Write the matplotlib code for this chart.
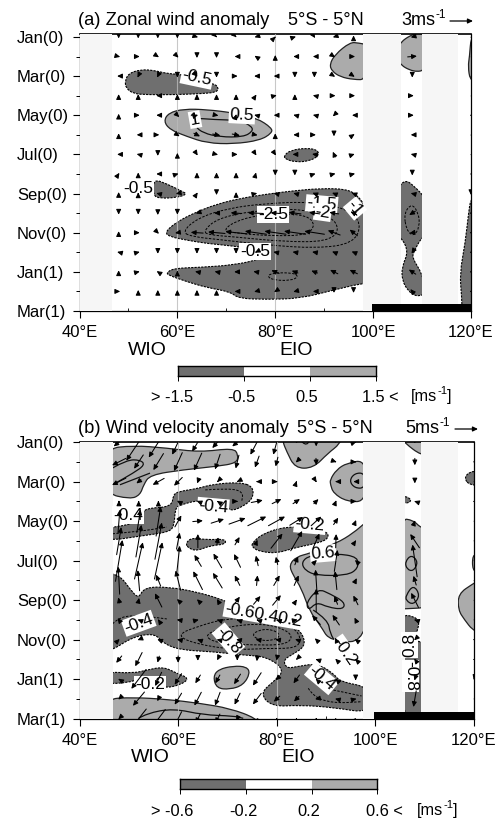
import numpy as np
import matplotlib
matplotlib.use('Agg')
import matplotlib.pyplot as plt
from matplotlib.patches import FancyArrowPatch, PathPatch
from matplotlib.path import Path

plt.rcParams['font.family'] = ['Liberation Sans', 'DejaVu Sans']

W, H = 499, 825
DARK = '#6f6f6f'
LIGHT = '#ababab'
BAND = '#f6f6f6'

MONTH_TICKS = [0, 2, 4, 6, 8, 10, 12, 14]
MONTH_LABELS = ['Jan(0)', 'Mar(0)', 'May(0)', 'Jul(0)', 'Sep(0)', 'Nov(0)', 'Jan(1)', 'Mar(1)']
LON_TICKS = [40, 60, 80, 100, 120]
LON_LABELS = ['40°E', '60°E', '80°E', '100°E', '120°E']
ARROW_LONS = [48, 52, 56, 60, 64, 68, 72, 76, 80, 84, 88, 92, 96]

# panel (a): zonal wind, m/s, rows are months 0..13
U_A = [
    [0, 0, 0, 0, .3, .1, .1, -.3, .1, .3, .2, -.3, 0],
    [.4, .4, .3, .3, 0, 0, -.4, -.3, 0, -.4, -.4, .3, .4],
    [-.4, -.2, -.2, 0, .1, 0, .4, -.4, -.4, 0, 0, .3, .3],
    [0, 0, -.4, 0, 0, 0, 0, .2, .4, 0, -.4, .4, .4],
    [0, .4, -.4, .5, .3, .5, .1, -.4, -.4, -.4, -.4, -.3, -.4],
    [0, -.4, .4, .6, .8, 1, 1, .5, 0, -.4, .4, 0, .3],
    [-.4, -.4, 0, 0, .2, .4, .4, .2, .2, -.6, -.6, -.3, .3],
    [.2, 0, -.4, .3, 0, 0, 0, .1, 0, 0, .3, .4, .4],
    [0, 0, -.4, -.4, .2, 0, 0, .4, -.4, -.4, -.5, -.5, -.5],
    [0, 0, 0, 0, -.3, -.6, -1.4, -2, -1.2, -1.6, -1.4, -1.2, -.8],
    [0, .4, .3, -.6, -1.6, -2.2, -2.8, -2.8, -2.8, -2.8, -2.6, -1.6, -1],
    [-.4, .4, 0, 0, 0, 0, 0, -.2, -.5, -.6, -.6, -.5, -.5],
    [0, .4, -.3, 0, -.5, -.5, -.5, -.6, -1, -.8, -.8, -1, -1],
    [.4, 0, 0, 0, 0, 0, -.4, -.4, -.3, -.4, -.4, 0, 0],
]
V_A = [
    [-.4, -.4, -.4, -.4, -.1, -.1, -.1, -.1, .1, .1, -.3, -.1, .4],
    [-.1, 0, -.2, -.3, -.4, -.4, 0, .2, .4, 0, 0, -.2, 0],
    [0, -.4, -.4, -.4, -.1, -.4, 0, 0, 0, -.4, -.4, -.2, -.2],
    [.4, .4, 0, .4, .4, .4, .4, .3, .1, .4, .1, 0, 0],
    [.4, 0, 0, -.5, .1, -.1, .3, .1, 0, .1, .1, -.3, 0],
    [.4, 0, 0, -.4, -.4, -.2, -.2, -.1, .4, 0, 0, -.4, .2],
    [0, .1, -.4, .4, -.3, -.1, 0, -.3, -.3, 0, .1, .7, .1],
    [.3, .4, 0, .1, .4, .4, .4, .4, -.4, -.4, .1, .1, .1],
    [.4, .3, .1, -.1, .3, -.4, .4, .1, .1, .1, .2, .2, .2],
    [-.4, -.4, -.5, -.4, -.1, 0, .1, .1, .1, .2, .2, .2, .4],
    [.4, 0, -.3, -.1, .1, .2, .3, .4, .4, .4, .4, .6, .8],
    [.1, .1, -.4, -.4, -.4, -.4, -.4, -.1, .1, .1, .1, .2, .2],
    [.4, .1, .2, .3, .1, .1, 0, .1, .4, .3, .3, .5, .5],
    [0, .4, .4, .4, .4, .4, 0, -.1, -.2, -.1, 0, -.4, -.4],
]
U_A_108 = [-.4, 1.2, 0, .4, .4, -.4, -.4, 0, -.4, -.8, -.7, -.2, -.9, -.5]
V_A_108 = [-.1, .1, -.4, 0, 0, 0, .1, -.4, .1, -.5, -.1, -.3, .6, .6]
U_A_120 = [-.1, -.1, -.1, -.1, -.3, -.1, -.1, -.3, 0, -.4, -.4, -.4, -.4, -.4]
V_A_120 = [.1, .1, .1, .1, 0, .1, .1, .1, -.4, 0, 0, 0, 0, 0]

# panel (b): wind vector, m/s, rows are months 0..14
U_B = [
    [-2.3, -5.4, -4.2, -2.6, -2.5, -2.3, -2.2, -2.9, -1.5, -.3, 0, .2, .3],
    [-3, -2, -2.2, -1.8, -1.7, -1.1, -.7, -.9, -.5, -.3, .1, .3, .3],
    [-3, -1, -2.5, -1.8, -.3, -.2, -.2, -.4, .4, .1, .2, -.3, -1],
    [0, 0, 0, -.5, -.5, -.3, .3, 2.5, 2, 1.5, 1, .2, .3],
    [.4, .8, 1, 1.4, 2.2, 2.8, 3.6, 4, 3.6, 2.9, 2.2, 1, .2],
    [1, 1.2, 1.5, .7, 0, .3, 1, .2, 2.5, 2.5, 1.4, .1, .2],
    [1.5, 1.8, 1.7, .7, -1.5, -1.8, -1.4, -.5, -.4, .7, .3, .7, -.3],
    [-.3, -.4, -1, -1.1, -2, -2, -1.1, .2, 1.3, 1, -.3, -.4, .5],
    [-.3, .2, -1.5, -.5, -.4, -.3, 1.1, 1.5, 1.8, .2, 0, -.7, -1],
    [-.6, -.5, -.2, -.6, .4, -.3, -.3, -.3, -.3, .5, -1.8, -1.5, -.5],
    [.3, -.5, -.5, -.5, -.3, -.4, -.5, -.6, -.7, -.6, -.6, -.4, -.4],
    [-1.2, -1.5, -.4, 0, 0, -.2, 0, -.1, -.1, -.2, -.3, -.3, -.2],
    [-.3, -3.2, -1.4, -1.5, -1.1, -1, -1.4, -1.8, -.5, -1.3, -.2, -.2, 0],
    [-.3, -2.5, -.5, -1.5, -1.5, -1.1, -1.2, -1.8, -1.3, -1.1, -.5, -.4, .4],
    [-.3, -3.3, -3, -1.5, -1, -1, -.5, -.3, 0, 0, 0, .2, .3],
]
V_B = [
    [-1.9, -8.1, -6.7, -5.5, -4.1, -2.6, -1.9, -5.5, -5.5, -.5, -1.9, -.3, .1],
    [-1.5, -3, -3.6, -4, -3.8, -3.3, -2.9, -2.5, -2, -.3, -1.5, -.1, 0],
    [-1.5, -.8, -1.4, -1.8, -.8, -.2, -.1, 0, 0, .3, -.3, 0, 0],
    [.4, .3, .3, .3, .2, .2, 0, .5, 1, 1, 1, .5, 0],
    [5, 5, 6.5, 2.5, .2, .9, 1.3, 2, 2, 1.8, 2, 1.5, .5],
    [6, 7, 8, 3.6, 3, 1.6, 1.7, .5, 3.2, 4.3, 3.2, 3, .3],
    [9, 8, 8, 6.5, 2.5, 3.1, 2.9, 2.2, 1.7, 1.8, .3, 4.7, .3],
    [6, 4.5, 2.5, 4.3, 4, 3.3, 2.2, 2.2, 2.2, 2.2, 4.7, 4, 1],
    [1.2, 1, 3, .5, .4, .5, 1.5, 1.8, 2.2, .3, 5, 1.8, 2],
    [.8, .2, .3, .1, .1, .1, .1, .1, .1, .1, 2, 2.2, 1],
    [.3, -.2, .2, .1, .1, .1, .1, .1, .1, .2, .6, .9, .3],
    [-1.5, -3, -1.4, -1.5, -.6, -.4, -.5, -.8, -.5, -.2, .1, .3, .2],
    [.2, -4.2, -3, -2.4, -1.8, -1.8, -2.2, -2.8, -.5, -1.8, .2, .2, -.5],
    [-.3, -3, -1, -2.5, -2.9, -2.9, -2.5, -2.4, -1.2, -1.1, -.1, .1, .1],
    [-.3, -4.2, -4, -3, -2, -2, -1, .3, .4, .4, .4, .3, .3],
]
U_B_108 = [0, 0, 0, -.3, .1, -2, -1, -.6, -1.6, -.3, -.3, -.3, -.2, -.6, -.3]
V_B_108 = [-.5, -1.5, -.8, .1, .3, 3, 7, 2, 3.2, .1, -.3, .4, -.6, -3.5, -.2]
U_B_120 = [-.2, -.2, -.2, -.4, -.4, -.3, -.4, -.4, -.4, -.3, -.4, -.4, -.1, -.3, -.3]
V_B_120 = [0, 0, -.1, 0, .1, 0, .1, .1, .1, 0, 0, 0, -.4, 0, 0]

# contours as (lon, month) outlines
DARK_A = [
    [(49.3, 2.27), (50, 1.87), (52.4, 1.67), (55.1, 1.7), (57.8, 1.87), (61.3, 1.93), (64, 2.18), (67.4, 2.39),
     (68.4, 2.56), (68.1, 2.83), (64.7, 2.9), (59.2, 2.95), (53.8, 2.95), (51, 2.9), (49.5, 2.61)],
    [(81.8, 6.06), (83.1, 5.79), (86.5, 5.67), (88.8, 5.79), (88.8, 6.1), (86.8, 6.35), (84.1, 6.39), (82, 6.24)],
    [(55.1, 7.26), (57.8, 7.5), (60.9, 7.88), (62, 8.03), (60, 8.2), (56.5, 8.25), (55, 8.1)],
    [(57.4, 9.98), (59.9, 9.44), (64, 8.93), (68.1, 8.54), (72.8, 8.25), (78.3, 8.03), (83.7, 7.86), (89.2, 7.74),
     (94.6, 7.77), (96.7, 8.08), (98, 8.5), (99.4, 9), (99.4, 12.59), (97.7, 12.59), (91.9, 12.93), (85.1, 13.36),
     (78.3, 13.41), (72.5, 13.36), (70.8, 13.02), (66, 12.8), (61.9, 12.5), (58.2, 12.17), (57.8, 12.05),
     (59.2, 11.82), (64.7, 11.77), (71.5, 11.65), (76.9, 11.36), (79.3, 10.97), (75.6, 10.85), (71.5, 10.68),
     (66, 10.55), (61.9, 10.38), (58.5, 10.21)],
    [(105, 7.7), (106.6, 7.3), (108.3, 7.6), (111, 8.3), (111, 10.2), (110, 10.2), (108.3, 10.97), (108, 11.3),
     (110, 12.08), (111, 13.1), (108.9, 13.27), (107.2, 13), (105.9, 12.42), (105.9, 11.74), (107.2, 10.97),
     (105.9, 10.29), (105, 10.2)],
    [(119.9, 8.33), (119.5, 9.01), (118.8, 10.55), (117.7, 12.08), (118.1, 13.27), (118.2, 14.2), (121, 14.2), (121, 8)],
]
LIGHT_A = [
    [(91.1, 1.41), (92.2, .9), (95.3, .27), (97, .31), (98.7, .39), (98.7, 2.18), (96, 2.18), (93.3, 2.04), (91.6, 1.75)],
    [(104.9, .39), (108.3, -.2), (111, -.2), (111, 1.67), (108.3, 1.81), (104.9, 1.33)],
    [(57.2, 4.31), (58.2, 3.88), (61.3, 3.68), (66, 3.71), (71.5, 3.88), (76.2, 4.14), (79.3, 4.65), (79.3, 4.91),
     (76.9, 5.28), (71.5, 5.47), (66, 5.42), (61.9, 5.08), (58.5, 4.74)],
    [(120, 0), (119.7, 1), (119.4, 1.5), (119.8, 2.2), (121, 2.2), (121, 0)],
]
DASHED_LOOPS_A = [
    [(60.9, 9.98), (64, 9.27), (70.1, 8.76), (78.3, 8.5), (87.1, 8.42), (94.6, 8.76), (97.7, 9.52), (96, 10.55),
     (88.5, 10.8), (78.3, 10.63), (68.1, 10.34), (63.3, 10.21)],
    [(65.2, 9.95), (68.1, 9.27), (75.6, 8.88), (83.7, 8.76), (91.2, 9.1), (93.3, 9.87), (90.5, 10.46), (81.7, 10.46),
     (71.5, 10.21), (66.7, 10.12)],
    [(69, 9.87), (73.1, 9.27), (79.9, 9.01), (86.5, 9.1), (88.2, 9.61), (86.5, 10.12), (79.9, 10.17), (72.4, 10.04)],
    [(78.3, 12.22), (79.6, 12.05), (83.7, 12.05), (84.8, 12.25), (83.1, 12.45), (79.6, 12.42)],
    [(106.3, 9.01), (107.9, 8.5), (109.3, 9.01), (109.5, 9.7), (108.3, 10.2), (106.8, 9.87)],
]
SOLID_LOOPS_A = [
    [(63.3, 4.14), (67.4, 4.22), (72.8, 4.26), (75.2, 4.57), (75.4, 4.82), (73.5, 5.11), (68.7, 5.11), (65.3, 4.91), (63.6, 4.57)],
]
LABELS_A = [
    ('-0.5', 64, 2.1, -12), ('1', 63.6, 4.22, 10), ('0.5', 73.2, 4.0, -3), ('-0.5', 52, 7.72, 0),
    ('-1.5', 89.5, 8.54, -5), ('-2', 89.7, 8.96, -8), ('-1', 96.3, 8.76, -50), ('-2.5', 79.6, 9.05, 0),
    ('-0.5', 75.9, 10.97, 0),
]

DARK_B = [
    [(75.2, 2.25), (75.2, 2.84), (73.2, 3.26), (70.5, 3.51), (69.5, 3.09), (64.4, 2.92), (60.4, 3.18), (59.4, 3.35),
     (59.2, 4.27), (58, 4.56), (53, 4.73), (45, 5.03), (45, 4.36), (50.9, 4.16), (52.8, 3.68), (53.3, 3.35),
     (58.7, 3.28), (59, 2.67), (60.1, 2.5), (63.8, 2.36), (67.1, 2.13), (72.5, 2.03)],
    [(61.5, 5.12), (62.8, 4.83), (65.8, 4.95), (69.5, 4.9), (69.7, 5.17), (66.5, 5.24), (63.8, 5.51), (62.1, 5.37)],
    [(74.9, 5.12), (77.3, 4.61), (82, 4.27), (86.7, 4.36), (90.4, 4.53), (90.4, 4.95), (86.7, 5.2), (83.3, 5.37),
     (80, 5.63), (76.6, 5.54), (75.1, 5.34)],
    [(45, 6.6), (48.2, 6.75), (50.3, 7.46), (52, 7.93), (53.1, 7.34), (58.4, 7.34), (63.8, 7.59), (68.5, 7.93),
     (72.5, 8.36), (78, 8.92), (83.3, 9.26), (85.4, 9.76), (85.7, 10.35), (83.3, 10.73), (81.3, 11.03), (82, 11.45),
     (84, 11.37), (88.1, 11.2), (91.5, 11.7), (92.8, 12.13), (99, 12.41), (99, 13.73), (91.5, 13.43), (84.7, 13.31),
     (79, 13.39), (76.6, 12.72), (79.3, 12.13), (81.7, 11.54), (78, 10.86), (73.2, 10.78), (67.1, 10.61), (60.4, 10.52),
     (57, 10.19), (55.3, 9.68), (50.9, 9.85), (46.7, 10.52), (45, 10.6)],
    [(45, 11.62), (50.9, 11.7), (53.6, 11.54), (57, 11.37), (59.7, 11.7), (62.3, 11.96), (60.4, 12.3), (57, 12.46),
     (56.3, 12.04), (52.3, 11.96), (49.9, 12.18), (45, 12.24)],
    [(105, 2.68), (107.3, 2.85), (106.9, 3.1), (105, 3.05)],
    [(105, 8.75), (107.7, 8.8), (109, 9.09), (108.3, 9.68), (108, 10.1), (111.7, 10.19), (111.7, 14.2), (105, 14.2)],
    [(118, 1.83), (119.1, 1.49), (121, 1.49), (121, 2.17), (119.1, 2.17)],
]
LIGHT_B = [
    [(45, .34), (50.9, .17), (57.7, .3), (64.4, .51), (71.2, .3), (72.2, .64), (71.9, 1.06), (67.8, 1.23), (61.1, 1.4),
     (54.3, 1.66), (53, 2.16), (52.3, 2.67), (50.3, 2.89), (45, 2.58)],
    [(81.2, -.5), (81.2, -.03), (82, .47), (83.7, 1.32), (87.4, 1.32), (90.4, .56), (92.8, .1), (93.5, -.5)],
    [(90.8, 1.91), (92.1, 1.4), (94.2, 1.06), (98.2, .9), (98.2, 3.01), (94.2, 3.01), (91.5, 2.59), (90.9, 2.16)],
    [(82.5, 6.22), (84, 5.8), (86.7, 5.63), (92.1, 5.12), (95.5, 4.61), (98.2, 4.02), (99, 4), (99, 10.1), (90.8, 10.1),
     (88.8, 9.26), (86.7, 8.58), (85, 7.4), (83.3, 6.73)],
    [(67.1, 11.87), (68.2, 11.5), (71.2, 11.33), (73.9, 11.37), (74.6, 11.7), (73.2, 12.3), (70.5, 12.52), (67.8, 12.46)],
    [(45, 13), (50.9, 12.92), (57.7, 13.02), (64.4, 13.22), (70.5, 13.48), (75.9, 13.98), (76.5, 14.4), (45, 14.4)],
    [(106, .05), (109.3, .68), (111.7, .6), (111.7, -.2), (105.3, -.2)],
    [(105, 3.86), (107.7, 3.95), (109.3, 4.37), (111.7, 4.37), (111.7, 8.36), (106, 8.44), (105, 8.44)],
    [(116.8, 7.68), (119.8, 7.17), (121, 7), (121, 9.6), (119.7, 9.51), (118.1, 9), (116.8, 8.5)],
    [(119.7, 5.7), (121, 5.7), (121, 6.6), (119.7, 6.5)],
]
DASHED_LOOPS_B = [
    [(59.7, 9.76), (63.8, 9.34), (69.8, 8.92), (78, 8.92), (83.3, 9.34), (85, 9.93), (84, 10.44), (78, 10.44), (71.2, 10.52), (63.1, 10.19)],
    [(65.1, 9.76), (69.8, 9.34), (77.3, 9.17), (82, 9.51), (83.3, 9.93), (81.3, 10.27), (75.2, 10.27), (67.8, 10.19)],
    [(74.6, 9.76), (77.3, 9.43), (80.3, 9.59), (80.6, 9.93), (77.3, 10.1)],
]
DASHED_LINES_B = [
    [(65.5, 2.42), (70.5, 2.33), (73.2, 2.53), (72.9, 3)],
    [(46.7, 4.64), (52.3, 4.52), (57.7, 4.3)],
    [(86.4, 12.46), (87.4, 12.89), (91.5, 13.22), (97.2, 13.14)],
    [(91.5, 12.55), (97.2, 12.85)],
    [(46.7, 9.2), (48.2, 8.8), (53, 8.8), (57.7, 8.95)],
]
SOLID_LOOPS_B = [
    [(94.7, 1.96), (95.8, 1.57), (97.9, 1.57), (97.9, 2.33), (95.8, 2.33)],
    [(85, 6.07), (86.7, 5.73), (92.1, 5.64), (96.5, 5.81), (96.5, 6.41), (94.2, 6.75), (88.1, 6.75), (85.7, 6.49)],
    [(86, 8.1), (88.4, 7.42), (90.8, 7.68), (93.8, 8.1), (93.5, 8.47), (90.4, 8.36), (88.1, 8.1), (86.4, 8.53)],
    [(106, 6.07), (107.3, 5.69), (108.7, 6.07), (107.7, 6.54), (106.4, 6.44)],
    [(106.2, 7.76), (107.7, 7.22), (109.1, 7.76), (107.7, 8.24), (106.2, 8.02)],
]
SOLID_LINES_B = [
    [(46.7, 1.31), (49.6, .9), (52.3, .9), (53.3, 1.15), (50.9, 1.57), (46.7, 2.16)],
    [(48.2, 2.16), (54.3, 1.57)],
    [(52, 13.98), (53.6, 13.73), (59, 13.48), (65.1, 13.81), (71.2, 13.86), (73.2, 13.98)],
    [(87.4, 8.5), (90.4, 9), (90.8, 9.68), (92.1, 10.19)],
    [(84.8, -.1), (85.8, .2), (86.8, -.1)],
]
LABELS_B = [
    ('-0.4', 49.9, 3.69, 0), ('-0.4', 67.1, 3.27, -5), ('-0.2', 86.7, 4.2, -5), ('0.6', 89.4, 5.64, 5),
    ('-0.60.40.2', 77.3, 8.75, -10), ('-0.8', 70.2, 10.02, -50), ('-0.4', 52, 9.17, 20), ('-0.2', 93.8, 10.6, -55),
    ('-0.4', 89.1, 11.96, -40), ('-0.2', 54.3, 12.25, 0), ('-0.8', 107.1, 11.85, -90), ('0.8', 107, 10.25, 90),
]

BAND_EDGES_A = [(40, 46.7), (97.9, 105.7), (110, 117.4)]
BAND_EDGES_B = [(40, 46.7), (97.4, 106), (109.3, 116.8)]
CBAR_A = ['> -1.5', '-0.5', '0.5', '1.5 <']
CBAR_B = ['> -0.6', '-0.2', '0.2', '0.6 <']


def smooth(points, closed=True):
    # quadratic spline through the midpoints, so the outlines look like contours
    pts = np.array(points, dtype=float)
    if closed:
        mids = (pts + np.roll(pts, -1, axis=0)) / 2
        verts = [mids[-1]]
        codes = [Path.MOVETO]
        for p, m in zip(pts, mids):
            verts += [p, m]
            codes += [Path.CURVE3, Path.CURVE3]
    else:
        verts = [pts[0]]
        codes = [Path.MOVETO]
        for i in range(1, len(pts) - 1):
            verts += [pts[i], (pts[i] + pts[i + 1]) / 2]
            codes += [Path.CURVE3, Path.CURVE3]
        verts.append(pts[-1])
        codes.append(Path.LINETO)
    return Path(verts, codes)


def px_axes(fig, left, right, top, bottom):
    return fig.add_axes([left / W, 1 - bottom / H, (right - left) / W, (bottom - top) / H])


def draw_arrows(ax, lons, us, vs, px_per_ms, px_per_deg, px_per_month):
    # arrows are centred on their grid point, heads keep a fixed size
    for i, (row_u, row_v) in enumerate(zip(us, vs)):
        for lon, u, v in zip(lons, row_u, row_v):
            dx = u * px_per_ms / px_per_deg / 2
            dy = -v * px_per_ms / px_per_month / 2
            ax.add_patch(FancyArrowPatch((lon - dx, i - dy), (lon + dx, i + dy),
                                         arrowstyle='-|>,head_length=0.42,head_width=0.2', mutation_scale=7,
                                         shrinkA=0, shrinkB=0, lw=0.75, color='black', zorder=5))


def draw_panel(ax, bands, dark, light, dashed_loops, solid_loops, labels, top_month, bar_left):
    ax.set_xlim(40, 120)
    ax.set_ylim(14, top_month)
    for poly in dark:
        ax.add_patch(PathPatch(smooth(poly), fc=DARK, ec='black', lw=0.8, ls=(0, (2, 1)), zorder=2))
    for poly in light:
        ax.add_patch(PathPatch(smooth(poly), fc=LIGHT, ec='#222222', lw=0.9, zorder=2))
    for poly in dashed_loops:
        ax.add_patch(PathPatch(smooth(poly), fc='none', ec='black', lw=0.7, ls=(0, (2.5, 1.5)), zorder=2.2))
    for poly in solid_loops:
        ax.add_patch(PathPatch(smooth(poly), fc='none', ec='#111111', lw=0.9, zorder=2.2))
    for a, b in bands:
        ax.axvspan(a, b, color=BAND, lw=0, zorder=3)
    for lon in [60, 80]:
        ax.axvline(lon, color='#bbbbbb', lw=0.8, alpha=0.8, zorder=3.5)
    for text, lon, month, rot in labels:
        ax.text(lon, month, text, fontsize=12.5, rotation=rot, ha='center', va='center', zorder=4,
                bbox=dict(fc='white', ec='none', pad=0.8))
    ax.fill_between([bar_left, 120], 13.64, 14, color='black', lw=0, zorder=6)

    ax.set_xticks(LON_TICKS)
    ax.set_xticklabels(LON_LABELS, fontsize=12)
    ax.set_xticks([50, 70, 90, 110], minor=True)
    ax.set_yticks(MONTH_TICKS)
    ax.set_yticklabels(MONTH_LABELS, fontsize=12)
    ax.set_yticks([1, 3, 5, 7, 9, 11, 13], minor=True)
    ax.tick_params(axis='x', which='major', length=5, width=0.8, pad=5, direction='out')
    ax.tick_params(axis='x', which='minor', length=2.5, width=0.6, direction='in')
    ax.tick_params(axis='y', which='major', length=5, width=0.8, pad=40)
    ax.tick_params(axis='y', which='minor', length=3, width=0.7)
    for label in ax.get_yticklabels():
        label.set_ha('left')
    for spine in ax.spines.values():
        spine.set_linewidth(0.9)
    ax.spines['top'].set_linewidth(1.2)


def draw_colorbar(fig, left, right, top, bottom, labels, label_px, unit_px, label_y):
    cax = px_axes(fig, left, right, top, bottom)
    cax.barh(0, [1, 1, 1], left=[0, 1, 2], height=1, color=[DARK, 'white', LIGHT], lw=0)
    cax.set_xlim(0, 3)
    cax.set_ylim(-0.5, 0.5)
    cax.set_yticks([])
    cax.set_xticks([0, 1, 2, 3])
    cax.set_xticklabels([])
    cax.tick_params(axis='x', length=3.5, width=0.7)
    for spine in cax.spines.values():
        spine.set_linewidth(1.0)
    for text, x in zip(labels, label_px):
        fig.text(x / W, 1 - label_y / H, text, fontsize=11.8, ha='center', va='center')
    start = unit_px - 21
    fig.text(start / W, 1 - (label_y - 1) / H, '[ms', fontsize=11.8, va='center')
    fig.text((start + 26) / W, 1 - (label_y - 7) / H, '-1', fontsize=8, va='center')
    fig.text((start + 36) / W, 1 - (label_y - 1) / H, ']', fontsize=11.8, va='center')


def draw_header(fig, title, title_y, place_x, speed, speed_x, arrow_x, arrow_y):
    fig.text(78 / W, 1 - title_y / H, title, fontsize=13.2, va='baseline')
    fig.text(place_x / W, 1 - title_y / H, '5°S - 5°N', fontsize=13, va='baseline')
    fig.text(speed_x / W, 1 - title_y / H, speed + 'ms', fontsize=13, va='baseline')
    fig.text((speed_x + 34) / W, 1 - (title_y - 7) / H, '-1', fontsize=8.5, va='baseline')
    fig.add_artist(FancyArrowPatch((arrow_x[0] / W, 1 - arrow_y / H), (arrow_x[1] / W, 1 - arrow_y / H),
                                   transform=fig.transFigure, arrowstyle='-|>,head_length=0.42,head_width=0.2',
                                   mutation_scale=7, shrinkA=0, shrinkB=0, lw=0.9, color='black'))


def main():
    fig = plt.figure(figsize=(W / 100, H / 100), dpi=100)

    ax_a = px_axes(fig, 79.5, 471, 34, 311)
    draw_panel(ax_a, BAND_EDGES_A, DARK_A, LIGHT_A, DASHED_LOOPS_A, SOLID_LOOPS_A, LABELS_A, -0.15, 99.7)
    scale_a = (7.7, 391.5 / 80, 19.57)
    draw_arrows(ax_a, ARROW_LONS, U_A, V_A, *scale_a)
    draw_arrows(ax_a, [108], [[u] for u in U_A_108], [[v] for v in V_A_108], *scale_a)
    draw_arrows(ax_a, [120], [[u] for u in U_A_120], [[v] for v in V_A_120], *scale_a)

    ax_b = px_axes(fig, 79.5, 474, 441.7, 718.7)
    draw_panel(ax_b, BAND_EDGES_B, DARK_B, LIGHT_B, DASHED_LOOPS_B, SOLID_LOOPS_B, LABELS_B, -0.02, 99.7)
    for line in DASHED_LINES_B:
        ax_b.add_patch(PathPatch(smooth(line, closed=False), fc='none', ec='black', lw=0.7, ls=(0, (2.5, 1.5)), zorder=2.2))
    for line in SOLID_LINES_B:
        ax_b.add_patch(PathPatch(smooth(line, closed=False), fc='none', ec='#111111', lw=0.9, zorder=2.2))
    scale_b = (4.6, 394.5 / 80, 19.78)
    draw_arrows(ax_b, ARROW_LONS, U_B, V_B, *scale_b)
    draw_arrows(ax_b, [108], [[u] for u in U_B_108], [[v] for v in V_B_108], *scale_b)
    draw_arrows(ax_b, [120], [[u] for u in U_B_120], [[v] for v in V_B_120], *scale_b)

    draw_header(fig, '(a) Zonal wind anomaly', 25, 288, '3', 401, (450, 473), 21)
    draw_header(fig, '(b) Wind velocity anomaly', 433, 297, '5', 405, (455, 478), 429)

    for x, y, text in [(147, 350, 'WIO'), (296, 350, 'EIO'), (150, 757, 'WIO'), (298, 757, 'EIO')]:
        fig.text(x / W, 1 - y / H, text, fontsize=14, ha='center', va='center')

    draw_colorbar(fig, 177.7, 375.7, 366, 376, CBAR_A, [172, 241, 307, 380], 432, 398)
    draw_colorbar(fig, 180, 377.3, 779.3, 789.3, CBAR_B, [172, 243, 309, 384], 438, 812)

    fig.savefig('out.png', dpi=100)


if __name__ == '__main__':
    main()
